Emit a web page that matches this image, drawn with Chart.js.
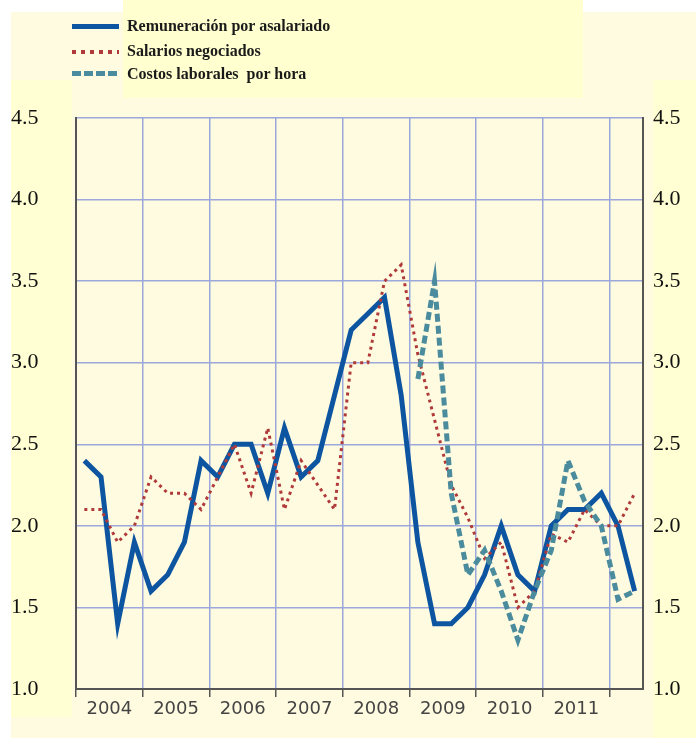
<!DOCTYPE html>
<html>
<head>
<meta charset="utf-8">
<script src="https://cdn.jsdelivr.net/npm/chart.js@4.4.0/dist/chart.umd.min.js"></script>
<style>
  body { margin: 0; background: #ffffff; }
  #wrap { position: relative; width: 696px; height: 738px; overflow: hidden; }
  .bg { position: absolute; }
  #pale { left: 11px; top: 12px; width: 685px; height: 726px; background: #fffbe0; }
  #legbox { left: 123px; top: 0; width: 460px; height: 98px; background: #ffffcf; }
  #lstrip { left: 11px; top: 80px; width: 61px; height: 637px; background: #ffffd3; }
  #rstrip { left: 653px; top: 80px; width: 43px; height: 658px; background: #ffffd3; }
  #chartbox { position: absolute; left: 0; top: 0; width: 696px; height: 738px; }
  .leg { position: absolute; left: 72px; width: 47px; }
  .legtxt { position: absolute; left: 127px; font: bold 16px "Liberation Serif", serif; color: #1a1a1a; line-height: 18px; white-space: pre; }
</style>
</head>
<body>
<div id="wrap">
  <div class="bg" id="pale"></div>
  <div class="bg" id="legbox"></div>
  <div class="bg" id="lstrip"></div>
  <div class="bg" id="rstrip"></div>
  <div id="chartbox"><canvas id="Chart"></canvas></div>

  <div class="leg" style="top:24px;height:5px;background:#0d55a0"></div>
  <div class="legtxt" style="top:17px">Remuneración por asalariado</div>
  <div class="leg" style="top:50px;height:4px;background:repeating-linear-gradient(90deg,#b03a3a 0 4px,transparent 4px 9px)"></div>
  <div class="leg" style="top:71px;height:5px;background:repeating-linear-gradient(90deg,#4a8c9d 0 9px,transparent 9px 12px)"></div>
  <div class="legtxt" style="top:42px">Salarios negociados</div>
  <div class="legtxt" style="top:65px">Costos laborales  por hora</div>
</div>

<script>
// trimestres 2004T1 .. 2012T2
const years = [2004, 2005, 2006, 2007, 2008, 2009, 2010, 2011];
const yTicks = [1.0, 1.5, 2.0, 2.5, 3.0, 3.5, 4.0, 4.5];

const remuneracion = [2.4, 2.3, 1.4, 1.9, 1.6, 1.7, 1.9, 2.4, 2.3, 2.5, 2.5, 2.2, 2.6, 2.3, 2.4, 2.8,
  3.2, 3.3, 3.4, 2.8, 1.9, 1.4, 1.4, 1.5, 1.7, 2.0, 1.7, 1.6, 2.0, 2.1, 2.1, 2.2, 2.0, 1.6];
const salarios = [2.1, 2.1, 1.9, 2.0, 2.3, 2.2, 2.2, 2.1, 2.3, 2.5, 2.2, 2.6, 2.1, 2.4, 2.25, 2.1,
  3.0, 3.0, 3.5, 3.6, 3.05, 2.65, 2.25, 2.05, 1.8, 1.9, 1.5, 1.6, 1.95, 1.9, 2.1, 2.0, 2.0, 2.2];
const costos = [null, null, null, null, null, null, null, null, null, null, null, null, null, null, null, null,
  null, null, null, null, 2.9, 3.5, 2.2, 1.7, 1.85, 1.6, 1.3, 1.6, 1.85, 2.4, 2.15, 2.0, 1.55, 1.6];

const gridColor = '#9ca8dc';
const axisColor = '#555555';

// chaque trimestre au milieu de sa case
function toPoints(arr) {
  const pts = [];
  arr.forEach((v, i) => { if (v !== null) pts.push({ x: i + 0.5, y: v }); });
  return pts;
}

const yTickFont = { family: 'Liberation Serif', size: 22 };

new Chart(document.getElementById('Chart').getContext('2d'), {
  type: 'line',
  data: {
    datasets: [
      {
        label: 'Costos laborales  por hora',
        data: toPoints(costos),
        borderColor: '#4a8c9d',
        borderWidth: 5,
        borderDash: [8, 4],
        pointRadius: 0,
        tension: 0
      },
      {
        label: 'Salarios negociados',
        data: toPoints(salarios),
        borderColor: '#b03a3a',
        borderWidth: 3,
        borderDash: [3, 4],
        pointRadius: 0,
        tension: 0
      },
      {
        label: 'Remuneración por asalariado',
        data: toPoints(remuneracion),
        borderColor: '#0d55a0',
        borderWidth: 5,
        pointRadius: 0,
        tension: 0
      }
    ]
  },
  options: {
    responsive: true,
    maintainAspectRatio: false,
    animation: false,
    layout: { padding: { left: 11, right: 0, top: 118, bottom: 0 } },
    plugins: { legend: { display: false }, tooltip: { enabled: false } },
    scales: {
      x: {
        type: 'linear',
        min: 0,
        max: years.length * 4 + 2,
        afterBuildTicks: s => {
          s.ticks = [];
          for (let v = 0; v <= years.length * 4; v += 2) s.ticks.push({ value: v });
        },
        ticks: {
          autoSkip: false,
          maxRotation: 0,
          padding: 2,
          color: '#444444',
          font: { family: 'DejaVu Sans', size: 18 },
          callback: v => (v % 4 === 2) ? String(years[(v - 2) / 4]) : ''
        },
        grid: {
          color: c => (c.tick && c.tick.value % 4 === 0 && c.tick.value > 0) ? gridColor : 'rgba(0,0,0,0)',
          tickColor: c => (c.tick && c.tick.value % 4 === 0) ? axisColor : 'rgba(0,0,0,0)',
          tickLength: 8,
          lineWidth: 1.5
        },
        border: { color: axisColor, width: 2 },
        afterFit: s => { s.height = 49; }
      },
      y: {
        position: 'left',
        min: yTicks[0],
        max: yTicks[yTicks.length - 1],
        afterBuildTicks: s => { s.ticks = yTicks.map(v => ({ value: v })); },
        ticks: { crossAlign: 'far', color: '#111111', font: yTickFont, callback: v => v.toFixed(1) },
        grid: { color: gridColor, lineWidth: 1.5, drawTicks: false },
        border: { color: axisColor, width: 2 },
        afterFit: s => { s.width = 65; }
      },
      y2: {
        position: 'right',
        min: yTicks[0],
        max: yTicks[yTicks.length - 1],
        afterBuildTicks: s => { s.ticks = yTicks.map(v => ({ value: v })); },
        ticks: { crossAlign: 'near', padding: 10, color: '#111111', font: yTickFont, callback: v => v.toFixed(1) },
        grid: { display: false, drawTicks: false },
        border: { color: axisColor, width: 2 },
        afterFit: s => { s.width = 53; }
      }
    }
  }
});
</script>
</body>
</html>
